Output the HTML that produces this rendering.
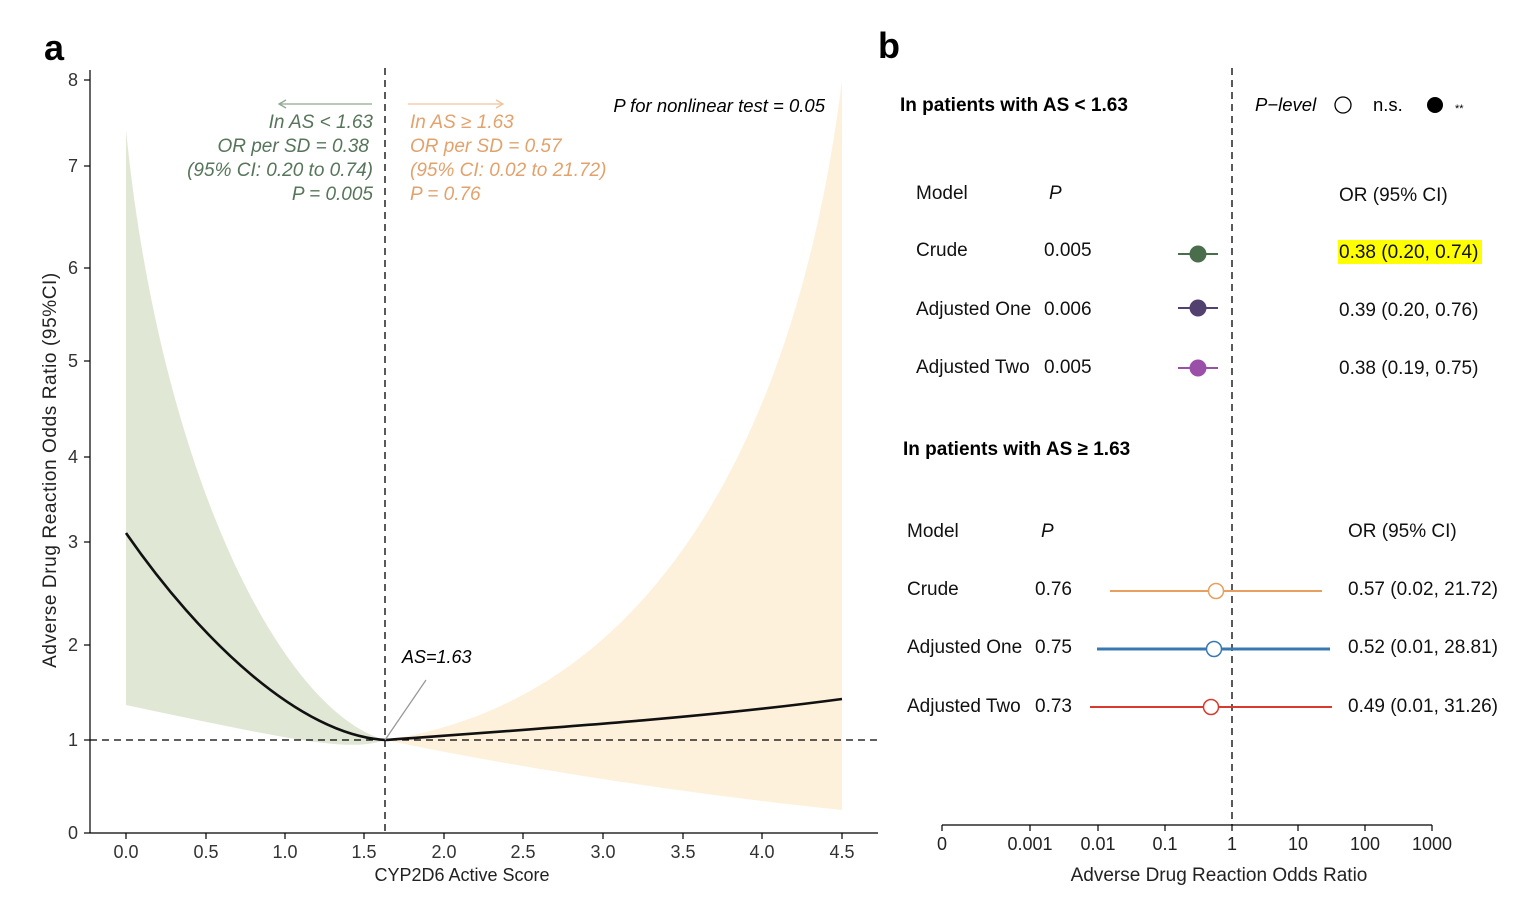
<!DOCTYPE html>
<html><head><meta charset="utf-8"><style>
html,body{margin:0;padding:0;background:#fff}
svg{display:block}
text{font-family:"Liberation Sans",Arial,sans-serif}
</style></head><body>
<svg width="1528" height="902" viewBox="0 0 1528 902" xmlns="http://www.w3.org/2000/svg">
<!-- Panel a -->
<text x="44" y="60" font-size="36" font-weight="bold">a</text>
<path d="M126,130 C160,470 280,710 385,740 C350,752 300,742 126,705 Z" fill="#e0e8d5"/>
<path d="M385,740 C660,700 800,420 842,80 L842,810 C650,790 480,760 385,740 Z" fill="#fdf1dc"/>
<line x1="90" y1="740" x2="878" y2="740" stroke="#000" stroke-width="1.3" stroke-dasharray="7,5"/>
<line x1="385" y1="68" x2="385" y2="833" stroke="#000" stroke-width="1.3" stroke-dasharray="7,5"/>
<path d="M126,533 C200,640 300,735 385,740" fill="none" stroke="#111" stroke-width="2.6"/>
<path d="M385,740 C550,728 700,718 842,699" fill="none" stroke="#111" stroke-width="2.6"/>
<line x1="385" y1="740" x2="426" y2="680" stroke="#999" stroke-width="1.3"/>
<text x="402" y="663" font-size="18" font-style="italic">AS=1.63</text>
<!-- axes -->
<g stroke="#000" stroke-width="1.2">
<line x1="90" y1="70" x2="90" y2="833"/>
<line x1="90" y1="833" x2="878" y2="833"/>
<line x1="84" y1="833" x2="90" y2="833"/><line x1="84" y1="740" x2="90" y2="740"/><line x1="84" y1="645" x2="90" y2="645"/><line x1="84" y1="542" x2="90" y2="542"/><line x1="84" y1="457" x2="90" y2="457"/><line x1="84" y1="361" x2="90" y2="361"/><line x1="84" y1="268" x2="90" y2="268"/><line x1="84" y1="166" x2="90" y2="166"/><line x1="84" y1="80" x2="90" y2="80"/>
<line x1="126" y1="833" x2="126" y2="839"/><line x1="206" y1="833" x2="206" y2="839"/><line x1="285" y1="833" x2="285" y2="839"/><line x1="364" y1="833" x2="364" y2="839"/><line x1="444" y1="833" x2="444" y2="839"/><line x1="523" y1="833" x2="523" y2="839"/><line x1="603" y1="833" x2="603" y2="839"/><line x1="683" y1="833" x2="683" y2="839"/><line x1="762" y1="833" x2="762" y2="839"/><line x1="842" y1="833" x2="842" y2="839"/>
</g>
<g font-size="18" text-anchor="end" fill="#333">
<text x="78" y="839">0</text><text x="78" y="746">1</text><text x="78" y="651">2</text><text x="78" y="548">3</text><text x="78" y="463">4</text><text x="78" y="367">5</text><text x="78" y="274">6</text><text x="78" y="172">7</text><text x="78" y="86">8</text>
</g>
<g font-size="18" text-anchor="middle" fill="#333">
<text x="126" y="858">0.0</text><text x="206" y="858">0.5</text><text x="285" y="858">1.0</text><text x="364" y="858">1.5</text><text x="444" y="858">2.0</text><text x="523" y="858">2.5</text><text x="603" y="858">3.0</text><text x="683" y="858">3.5</text><text x="762" y="858">4.0</text><text x="842" y="858">4.5</text>
</g>
<text x="462" y="881" font-size="18" text-anchor="middle" fill="#222">CYP2D6 Active Score</text>
<text transform="translate(56,470) rotate(-90)" font-size="19" text-anchor="middle" fill="#222" letter-spacing="0.6">Adverse Drug Reaction Odds Ratio  (95%CI)</text>
<!-- annotations -->
<line x1="280" y1="104" x2="372" y2="104" stroke="#8fa88f" stroke-width="1.3"/>
<path d="M286,100 L279,104 L286,108" fill="none" stroke="#8fa88f" stroke-width="1.3"/>
<line x1="408" y1="104" x2="502" y2="104" stroke="#f0c4a0" stroke-width="1.3"/>
<path d="M496,100 L503,104 L496,108" fill="none" stroke="#f0c4a0" stroke-width="1.3"/>
<g font-size="19" font-style="italic" fill="#56755a" text-anchor="end">
<text x="373" y="128">In AS &lt; 1.63</text><text x="369" y="152">OR per SD = 0.38</text><text x="373" y="176">(95% CI: 0.20 to 0.74)</text><text x="373" y="200">P = 0.005</text>
</g>
<g font-size="19" font-style="italic" fill="#e2a26c">
<text x="410" y="128">In AS ≥ 1.63</text><text x="410" y="152">OR per SD = 0.57</text><text x="410" y="176">(95% CI: 0.02 to 21.72)</text><text x="410" y="200">P = 0.76</text>
</g>
<text x="825" y="112" font-size="18.5" font-style="italic" text-anchor="end">P for nonlinear test = 0.05</text>

<!-- Panel b -->
<text x="878" y="58" font-size="36" font-weight="bold">b</text>
<line x1="1232" y1="68" x2="1232" y2="825" stroke="#000" stroke-width="1.3" stroke-dasharray="7,5"/>
<text x="900" y="111" font-size="19" font-weight="bold">In patients with AS &lt; 1.63</text>
<text x="1255" y="111" font-size="18.5" font-style="italic">P−level</text>
<circle cx="1343" cy="105" r="8" fill="#fff" stroke="#000" stroke-width="1.3"/>
<text x="1373" y="111" font-size="18.5">n.s.</text>
<circle cx="1435" cy="105" r="8" fill="#000"/>
<text x="1455" y="112" font-size="11">**</text>
<g font-size="19" fill="#111">
<text x="916" y="199">Model</text><text x="1049" y="199" font-style="italic">P</text><text x="1339" y="201">OR (95% CI)</text>
<text x="916" y="256">Crude</text><text x="1044" y="256">0.005</text>
<text x="916" y="315">Adjusted One</text><text x="1044" y="315">0.006</text>
<text x="916" y="373">Adjusted Two</text><text x="1044" y="373">0.005</text>
</g>
<rect x="1338" y="240" width="144" height="24" fill="#ffff00"/>
<g font-size="19" fill="#111">
<text x="1339" y="258">0.38 (0.20, 0.74)</text>
<text x="1339" y="316">0.39 (0.20, 0.76)</text>
<text x="1339" y="374">0.38 (0.19, 0.75)</text>
</g>
<line x1="1178" y1="254" x2="1218" y2="254" stroke="#4a6e4c" stroke-width="2"/><circle cx="1198" cy="254" r="8.5" fill="#4a6e4c"/>
<line x1="1178" y1="308" x2="1218" y2="308" stroke="#52416e" stroke-width="2"/><circle cx="1198" cy="308" r="8.5" fill="#52416e"/>
<line x1="1178" y1="368" x2="1218" y2="368" stroke="#9a4fa8" stroke-width="2"/><circle cx="1198" cy="368" r="8.5" fill="#9a4fa8"/>

<text x="903" y="455" font-size="19" font-weight="bold">In patients with AS ≥ 1.63</text>
<g font-size="19" fill="#111">
<text x="907" y="537">Model</text><text x="1041" y="537" font-style="italic">P</text><text x="1348" y="537">OR (95% CI)</text>
<text x="907" y="595">Crude</text><text x="1035" y="595">0.76</text><text x="1348" y="595">0.57 (0.02, 21.72)</text>
<text x="907" y="653">Adjusted One</text><text x="1035" y="653">0.75</text><text x="1348" y="653">0.52 (0.01, 28.81)</text>
<text x="907" y="712">Adjusted Two</text><text x="1035" y="712">0.73</text><text x="1348" y="712">0.49 (0.01, 31.26)</text>
</g>
<line x1="1110" y1="591" x2="1322" y2="591" stroke="#e8a060" stroke-width="2"/><circle cx="1216" cy="591" r="7.5" fill="#fff" stroke="#e8a060" stroke-width="1.5"/>
<line x1="1097" y1="649" x2="1330" y2="649" stroke="#3a78b0" stroke-width="3"/><circle cx="1214" cy="649" r="7.5" fill="#fff" stroke="#3a78b0" stroke-width="1.5"/>
<line x1="1090" y1="707" x2="1332" y2="707" stroke="#d83a30" stroke-width="2"/><circle cx="1211" cy="707" r="7.5" fill="#fff" stroke="#d83a30" stroke-width="1.5"/>
<!-- b axis -->
<g stroke="#000" stroke-width="1.2">
<line x1="942" y1="825" x2="1432" y2="825"/>
<line x1="942" y1="825" x2="942" y2="831"/><line x1="1030" y1="825" x2="1030" y2="831"/><line x1="1098" y1="825" x2="1098" y2="831"/><line x1="1165" y1="825" x2="1165" y2="831"/><line x1="1232" y1="825" x2="1232" y2="831"/><line x1="1298" y1="825" x2="1298" y2="831"/><line x1="1365" y1="825" x2="1365" y2="831"/><line x1="1432" y1="825" x2="1432" y2="831"/>
</g>
<g font-size="18" text-anchor="middle" fill="#222">
<text x="942" y="850">0</text><text x="1030" y="850">0.001</text><text x="1098" y="850">0.01</text><text x="1165" y="850">0.1</text><text x="1232" y="850">1</text><text x="1298" y="850">10</text><text x="1365" y="850">100</text><text x="1432" y="850">1000</text>
</g>
<text x="1219" y="881" font-size="19" text-anchor="middle" fill="#222">Adverse Drug Reaction Odds Ratio</text>
</svg>
</body></html>
